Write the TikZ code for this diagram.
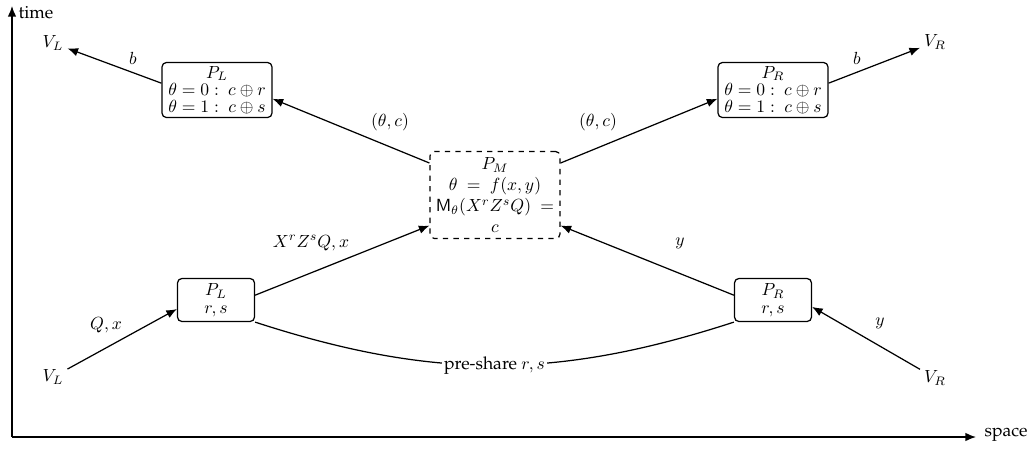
\documentclass[tikz,border=0pt]{standalone}
\usepackage[T1]{fontenc}
\usepackage{palatino}
\usetikzlibrary{arrows.meta}
\begin{document}
\begin{tikzpicture}[x=0.02cm,y=-0.02cm,
  >={Latex[length=6pt,width=4.8pt]},
  line width=0.7pt,
  box/.style={draw, rounded corners=2.5pt, align=center, inner sep=0.5pt},
  topbox/.style={box, minimum width=2.2cm, minimum height=1.1cm},
  botbox/.style={box, minimum width=1.54cm, minimum height=0.86cm},
  midbox/.style={box, dashed, minimum width=2.6cm, minimum height=1.74cm},
  vnode/.style={inner sep=2pt},
  lbl/.style={inner sep=0pt}]
\useasboundingbox (0,0) rectangle (1036,451);

% axes
\coordinate (O) at (12,437);
\coordinate (T) at (12,6);
\coordinate (S) at (976,437);
\draw[->] (O) -- (T);
\draw[->] (O) -- (S);
\node[lbl, anchor=west] (time) at (18,13) {time};
\node[lbl, anchor=west] (space) at (984,435) {space};

% nodes
\node[vnode] (VLt) at (53,43) {$V_L$};
\node[vnode] (VRt) at (935,42) {$V_R$};
\node[vnode] (VLb) at (53,377) {$V_L$};
\node[vnode] (VRb) at (935,378) {$V_R$};

\node[topbox] (PLt) at (217,90) {$P_L$\\[-2pt] $\theta=0:~c\oplus r$\\[-2.5pt] $\theta=1:~c\oplus s$};
\node[topbox] (PRt) at (773,90) {$P_R$\\[-2pt] $\theta=0:~c\oplus r$\\[-2.5pt] $\theta=1:~c\oplus s$};
\node[midbox] (PM) at (495,195) {$P_M$\\ $\theta\ =\ f(x,y)$\\ $\mathsf{M}_\theta(X^rZ^sQ)\ =$\\ $c$};
\node[botbox] (PLb) at (216,300) {$P_L$\\[-2pt] $r,s$};
\node[botbox] (PRb) at (773,300) {$P_R$\\[-2pt] $r,s$};

% connectors
\draw[->] (PLt.173) -- (VLt);
\draw[->] (PRt.7) -- (VRt);
\draw[->] (PM.154.5) -- (PLt.-9);
\draw[->] (PM.26) -- (PRt.189);
\draw[->] (VLb) -- (PLb.193);
\draw[->] (PLb.7) -- (PM.205);
\draw[->] (PRb.173) -- (PM.-25);
\draw[->] (VRb) -- (PRb.-10);
\draw (PLb.south east) to[out=-18,in=198]
  node[fill=white, inner sep=1pt, pos=0.5] (share) {pre-share $r,s$} (PRb.south west);

% labels
\node[lbl] (b1) at (133,58) {$b$};
\node[lbl] (b2) at (857,58) {$b$};
\node[lbl] (tc1) at (390,122) {$(\theta,c)$};
\node[lbl] (tc2) at (598,122) {$(\theta,c)$};
\node[lbl] (xz) at (311,243) {$X^rZ^sQ,x$};
\node[lbl] (y1) at (680,243) {$y$};
\node[lbl] (qx) at (106,325) {$Q,x$};
\node[lbl] (y2) at (880,323) {$y$};
\end{tikzpicture}
\end{document}
